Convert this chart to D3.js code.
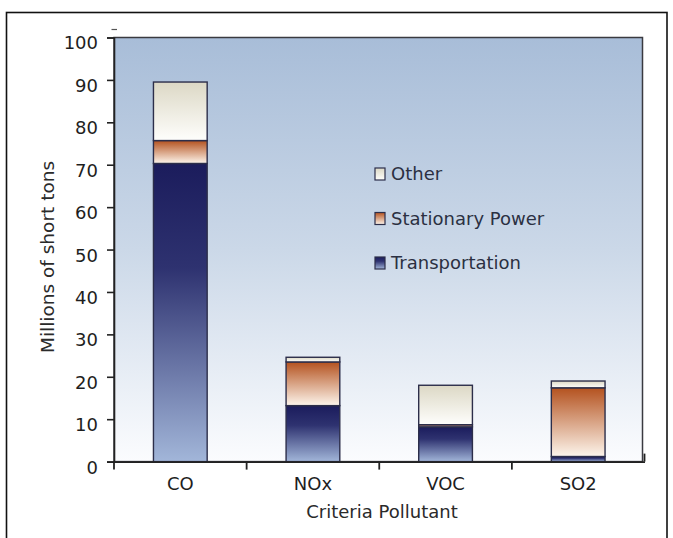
<!DOCTYPE html>
<html>
<head>
<meta charset="utf-8">
<script src="https://cdnjs.cloudflare.com/ajax/libs/d3/7.8.5/d3.min.js"></script>
<style>
  body { margin: 0; background: #fff; }
  text { font-family: "DejaVu Sans", Verdana, sans-serif; }
</style>
</head>
<body>
<div class="chart"><svg width="673" height="538"></svg></div>
<script>
// emissions by criteria pollutant, millions of short tons
var categories = ["CO", "NOx", "VOC", "SO2"];
var transportation = [70.3, 13.2, 8.2, 1.2];
var stationaryPower = [5.4, 10.3, 0.5, 16.2];
var other = [13.8, 1.1, 9.3, 1.6];
var yTicks = [0, 10, 20, 30, 40, 50, 60, 70, 80, 90, 100];
var seriesNames = ["Transportation", "Stationary Power", "Other"];

var rows = categories.map(function(c, i) {
  return { cat: c, Transportation: transportation[i],
           "Stationary Power": stationaryPower[i], Other: other[i] };
});

// gradient id per series (no spaces allowed in url refs)
function gid(name) { return "g-" + name.replace(/\s+/g, ""); }

var svg = d3.select("div.chart").select("svg");

var plot = {left: 114, top: 37.5, right: 642.5, bottom: 461.6};

var x = d3.scaleBand()
    .domain(categories)
    .range([plot.left, 644.5])
    .padding(0);

var y = d3.scaleLinear()
    .domain([0, 100])
    .range([plot.bottom, plot.top]);

var defs = svg.append("defs");

function grad(id, stops) {
  var g = defs.append("linearGradient")
      .attr("id", id)
      .attr("x1", 0).attr("y1", 0).attr("x2", 0).attr("y2", 1);
  stops.forEach(function(s) {
    g.append("stop").attr("offset", s[0]).attr("stop-color", s[1]);
  });
}
grad("bg", [[0, "#a8bdd8"], [0.5, "#cbd8e8"], [1, "#fbfcfe"]]);
grad(gid("Transportation"), [[0, "#1b1c5c"], [0.35, "#2e3270"], [1, "#a2b6d9"]]);
grad(gid("Stationary Power"), [[0, "#b4521f"], [1, "#fdf5ec"]]);
grad(gid("Other"), [[0, "#dcd8c5"], [1, "#fefefc"]]);

// outer frame
svg.append("rect")
    .attr("x", 6.5).attr("y", 12.5)
    .attr("width", 660.5).attr("height", 545)
    .attr("fill", "none")
    .attr("stroke", "#111")
    .attr("stroke-width", 1.6);

// plot area
svg.append("rect")
    .attr("x", plot.left).attr("y", plot.top)
    .attr("width", plot.right - plot.left)
    .attr("height", plot.bottom - plot.top)
    .attr("fill", "url(#bg)")
    .attr("stroke", "#3a3a40")
    .attr("stroke-width", 1.5);

// little stray mark above the axis
svg.append("line")
    .attr("x1", 111.5).attr("x2", 117).attr("y1", 29.5).attr("y2", 29.5)
    .attr("stroke", "#555").attr("stroke-width", 1.2);

var stack = d3.stack().keys(seriesNames);
var layers = stack(rows);

var barW = x.bandwidth() * 0.405;

svg.append("g").selectAll("g")
    .data(layers)
    .join("g")
    .attr("fill", function(d) { return "url(#" + gid(d.key) + ")"; })
  .selectAll("rect")
    .data(function(d) { return d; })
    .join("rect")
    .attr("x", function(d) { return x(d.data.cat) + (x.bandwidth() - barW) / 2; })
    .attr("y", function(d) { return y(d[1]); })
    .attr("width", barW)
    .attr("height", function(d) { return y(d[0]) - y(d[1]); })
    .attr("stroke", "#2c2e4a")
    .attr("stroke-width", 1.4);

// y axis
var yAxis = svg.append("g")
    .attr("transform", "translate(" + plot.left + ",0)")
    .call(d3.axisLeft(y).tickValues(yTicks).tickSize(7).tickFormat(d3.format("d")));
yAxis.select(".domain").attr("stroke", "#222").attr("stroke-width", 1.6);
yAxis.selectAll(".tick line").attr("stroke", "#222").attr("stroke-width", 1.6);
yAxis.selectAll(".tick text")
    .attr("x", -16)
    .attr("dy", "0.72em")
    .attr("y", -1.5)
    .attr("fill", "#1e1e1e")
    .style("font-size", "18px");

// x axis
var xAxis = svg.append("g")
    .attr("transform", "translate(0," + plot.bottom + ")")
    .call(d3.axisBottom(x).tickSize(0).tickPadding(16));
xAxis.select(".domain").attr("stroke", "#222").attr("stroke-width", 1.6);
xAxis.selectAll(".tick text")
    .attr("fill", "#1e1e1e")
    .style("font-size", "18px");

// separators between categories
var bounds = categories.map(function(c) { return x(c); });
svg.append("g").selectAll("line")
    .data(bounds)
    .join("line")
    .attr("x1", function(d) { return d; })
    .attr("x2", function(d) { return d; })
    .attr("y1", plot.bottom)
    .attr("y2", plot.bottom + 8)
    .attr("stroke", "#222")
    .attr("stroke-width", 1.8);
svg.append("line")
    .attr("x1", x.range()[1]).attr("x2", x.range()[1])
    .attr("y1", plot.bottom - 8).attr("y2", plot.bottom)
    .attr("stroke", "#222").attr("stroke-width", 1.8);

// axis titles
svg.append("text")
    .attr("transform", "translate(54,257) rotate(-90)")
    .attr("text-anchor", "middle")
    .attr("fill", "#2a2a2a")
    .style("font-size", "18.5px")
    .text("Millions of short tons");

svg.append("text")
    .attr("x", 382)
    .attr("y", 518)
    .attr("text-anchor", "middle")
    .attr("fill", "#2a2a2a")
    .style("font-size", "18px")
    .text("Criteria Pollutant");

// legend
var legendItems = ["Other", "Stationary Power", "Transportation"];
var leg = svg.append("g").selectAll("g")
    .data(legendItems)
    .join("g")
    .attr("transform", function(d, i) { return "translate(375," + (168 + i * 44.5) + ")"; });
leg.append("rect")
    .attr("width", 10).attr("height", 12)
    .attr("fill", function(d) { return "url(#" + gid(d) + ")"; })
    .attr("stroke", "#2c2e4a")
    .attr("stroke-width", 1.2);
leg.append("text")
    .attr("x", 16)
    .attr("y", 12)
    .attr("fill", "#2b3042")
    .style("font-size", "18px")
    .text(function(d) { return d; });
</script>
</body>
</html>
